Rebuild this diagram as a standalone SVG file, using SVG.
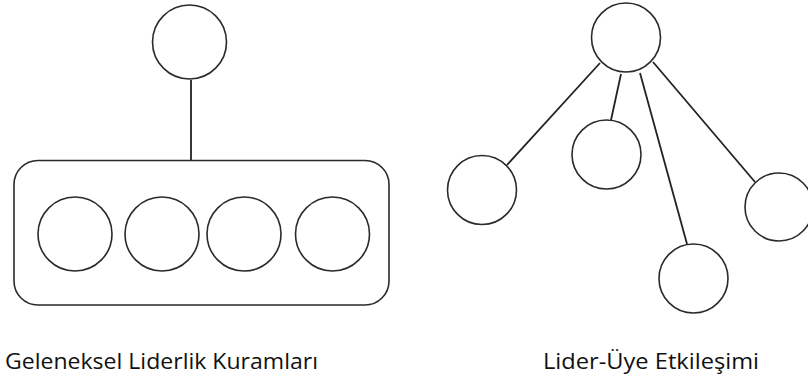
<svg xmlns="http://www.w3.org/2000/svg" width="808" height="379" viewBox="0 0 808 379">
<style>
.n{fill:#fff;stroke:#2a2a2a;stroke-width:1.6}
.e{stroke:#222;stroke-width:1.8;fill:none}
.t{font-family:"Open Sans","Liberation Sans",sans-serif;font-size:22px;fill:#111}
</style>
<rect width="808" height="379" fill="#fff"/>
<g id="connectors">
<line class="e" x1="191" y1="80" x2="191" y2="160"/>
<line class="e" x1="600" y1="63" x2="507" y2="165"/>
<line class="e" x1="621" y1="74" x2="611" y2="120"/>
<line class="e" x1="640" y1="73" x2="687" y2="244"/>
<line class="e" x1="653" y1="62" x2="755" y2="182"/>
</g>
<g id="leader-left"><circle class="n" cx="189.5" cy="42" r="37"/></g>
<g id="group-box"><rect class="n" x="14" y="160.5" width="375" height="144.5" rx="24"/></g>
<g id="member-1"><circle class="n" cx="75" cy="234" r="37"/></g>
<g id="member-2"><circle class="n" cx="162" cy="234" r="37"/></g>
<g id="member-3"><circle class="n" cx="244" cy="234" r="37"/></g>
<g id="member-4"><circle class="n" cx="332.5" cy="234" r="37"/></g>
<g id="leader-right"><circle class="n" cx="626" cy="37.5" r="34.5"/></g>
<g id="follower-1"><circle class="n" cx="482" cy="190" r="34.5"/></g>
<g id="follower-2"><circle class="n" cx="606.5" cy="154.5" r="34.5"/></g>
<g id="follower-3"><circle class="n" cx="693.5" cy="278.5" r="34.5"/></g>
<g id="follower-4"><circle class="n" cx="779" cy="207" r="34"/></g>
<g id="labels">
<text class="t" x="5" y="369" textLength="313" lengthAdjust="spacingAndGlyphs">Geleneksel Liderlik Kuramları</text>
<text class="t" x="543" y="369" textLength="216" lengthAdjust="spacingAndGlyphs">Lider-Üye Etkileşimi</text>
</g>
</svg>
